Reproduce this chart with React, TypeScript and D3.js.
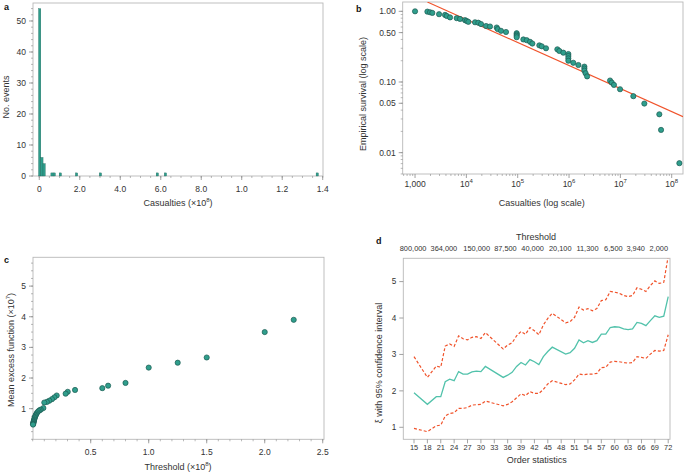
import React from "react";
import * as d3 from "d3";

const W = 685;
const H = 472;
const FONT = "'Liberation Sans', Arial, Helvetica, sans-serif";
const FRAME = "#b8b8b8";
const TICK = "#8a8a8a";
const INK = "#333333";
const TEAL = "#2f9e8c";
const TEAL_DARK = "#1d5a51";
const TEAL_LINE = "#52c2ab";
const RED = "#f0532b";
const FS = 8.5;
const FS_D = 7.4;

// ---- panel a: histogram of casualties (x in units of 1e8)
const histCenters = [0.002, 0.013, 0.024, 0.063, 0.074, 0.104, 0.184, 0.302, 0.583, 0.623, 1.373];
const histCounts = [54, 6, 4, 1, 1, 1, 1, 1, 1, 1, 1];
const histBinWidth = 0.0115;
const histXTicks = [0, 0.2, 0.4, 0.6, 0.8, 1.0, 1.2, 1.4];
const histXLabels = ["0", "2.0", "4.0", "6.0", "8.0", "1.0", "1.2", "1.4"];
const histYTicks = [0, 10, 20, 30, 40, 50];

// ---- panel b: empirical survival
const survX = [1000, 1740, 1960, 2170, 2940, 3840, 4150, 4810, 6490, 7530, 9420, 10160, 10920, 14750, 17100, 19300,
  24200, 28900, 39000, 40800, 47300, 59200, 95500, 95500, 95500, 95500, 129000, 150000, 174000, 193000, 264000,
  294000, 356000, 592000, 647000, 774000, 970000, 970000, 970000, 970000, 1.21e6, 1.52e6, 1.99e6, 1.99e6, 1.99e6,
  2.1e6, 2.25e6, 6.3e6, 6.8e6, 7.5e6, 9.86e6, 1.79e7, 2.93e7, 5.74e7, 6.2e7, 1.41e8];
const survY = [1.0, 0.99, 0.97, 0.95, 0.91, 0.89, 0.86, 0.82, 0.8, 0.78, 0.75, 0.73, 0.71, 0.7, 0.69, 0.66,
  0.62, 0.61, 0.59, 0.56, 0.53, 0.51, 0.49, 0.47, 0.45, 0.43, 0.4, 0.39, 0.37, 0.35, 0.33,
  0.32, 0.3, 0.29, 0.275, 0.26, 0.249, 0.233, 0.216, 0.2, 0.187, 0.174, 0.165, 0.155, 0.145,
  0.133, 0.12, 0.105, 0.098, 0.091, 0.079, 0.063, 0.0495, 0.0349, 0.021, 0.0071];
const fitX = [1740, 1.66e8];
const fitY = [1.355, 0.0323];
const survXTicks = [1e3, 1e4, 1e5, 1e6, 1e7, 1e8];
const survXLabels = ["1,000", "10^4", "10^5", "10^6", "10^7", "10^8"];
const survYTicks = [1, 0.5, 0.1, 0.05, 0.01];
const survYLabels = ["1.00", "0.50", "0.10", "0.05", "0.01"];

// ---- panel c: mean excess function
const meX = [2.25, 2.0, 1.5, 1.25, 1.0, 0.8, 0.65, 0.6, 0.365, 0.302, 0.284, 0.207, 0.187, 0.166, 0.143,
  0.122, 0.1, 0.092, 0.07, 0.06, 0.05, 0.04, 0.033, 0.028, 0.024, 0.02, 0.017, 0.014, 0.012, 0.01,
  0.008, 0.006, 0.005, 0.004, 0.003];
const meY = [3.9, 3.5, 2.67, 2.5, 2.34, 1.84, 1.75, 1.67, 1.61, 1.55, 1.49, 1.43, 1.37, 1.31, 1.26,
  1.22, 1.2, 1.02, 0.97, 0.95, 0.92, 0.88, 0.84, 0.8, 0.77, 0.73, 0.7, 0.66, 0.63, 0.6,
  0.57, 0.55, 0.52, 0.5, 0.48];
const meXTicks = [0.5, 1.0, 1.5, 2.0, 2.5];
const meXLabels = ["0.5", "1.0", "1.5", "2.0", "2.5"];
const meYTicks = [1, 2, 3, 4, 5];

// ---- panel d: xi estimates by order statistic
const orderStats = [15, 18, 20, 21, 22, 23, 24, 25, 26, 27, 28, 29, 30, 31, 35, 36, 37, 38, 39, 40, 41, 42, 43, 44,
  45, 46, 49, 50, 51, 52, 53, 54, 55, 56, 57, 58, 59, 60, 61, 62, 63, 64, 65, 66, 67, 68, 69, 70, 71, 72];
const xiMid = [1.95, 1.63, 1.84, 1.84, 2.25, 2.32, 2.28, 2.53, 2.46, 2.46, 2.52, 2.54, 2.53, 2.67,
  2.37, 2.43, 2.51, 2.67, 2.78, 2.71, 2.86, 2.8, 2.72, 2.94, 3.08, 3.2,
  3.01, 3.05, 3.17, 3.4, 3.32, 3.38, 3.33, 3.38, 3.56, 3.56, 3.74, 3.76, 3.75, 3.7, 3.68, 3.7,
  3.88, 3.85, 3.79, 3.93, 4.06, 4.02, 4.05, 4.59];
const xiUpper = [2.94, 2.37, 2.68, 2.65, 3.23, 3.29, 3.22, 3.51, 3.43, 3.4, 3.47, 3.49, 3.44, 3.6,
  3.15, 3.26, 3.32, 3.51, 3.63, 3.55, 3.74, 3.65, 3.54, 3.81, 3.99, 4.13,
  3.87, 3.9, 4.02, 4.3, 4.22, 4.26, 4.2, 4.26, 4.48, 4.5, 4.73, 4.71, 4.68, 4.62, 4.59, 4.62,
  4.83, 4.79, 4.73, 4.89, 5.02, 4.95, 4.98, 5.7];
const xiLower = [0.97, 0.88, 1.04, 1.06, 1.31, 1.38, 1.4, 1.52, 1.52, 1.54, 1.61, 1.62, 1.63, 1.72,
  1.59, 1.63, 1.7, 1.81, 1.92, 1.87, 1.98, 1.93, 1.93, 2.04, 2.19, 2.28,
  2.17, 2.19, 2.3, 2.46, 2.44, 2.46, 2.46, 2.48, 2.64, 2.65, 2.79, 2.81, 2.8, 2.78, 2.76, 2.78,
  2.94, 2.92, 2.89, 3.01, 3.11, 3.09, 3.11, 3.54];
const orderTicks = [15, 18, 21, 24, 27, 30, 33, 36, 39, 42, 45, 48, 51, 54, 57, 60, 63, 66, 69, 72];
const xiYTicks = [1, 2, 3, 4, 5];
const thresholdAt = [14.8, 21.7, 29.05, 35.5, 41.6, 47.8, 53.9, 59.7, 64.7, 69.9];
const thresholdLabels = ["800,000", "364,000", "150,000", "87,500", "40,000", "20,100", "11,300", "6,500", "3,940", "2,000"];

type Box = { l: number; r: number; t: number; b: number };
const boxA: Box = { l: 33, r: 323, t: 3, b: 176 };
const boxB: Box = { l: 402.7, r: 683, t: 2, b: 174 };
const boxC: Box = { l: 33, r: 324, t: 257.3, b: 439.3 };
const boxD: Box = { l: 403.3, r: 670, t: 258.3, b: 439.3 };

function Label({ s }: { s: string }) {
  // "10^4" -> 10 with superscript
  const [base, sup] = s.split("^");
  if (!sup) return <>{s}</>;
  return (
    <>
      {base}
      <tspan dy={-4} fontSize={6}>{sup}</tspan>
    </>
  );
}

function Frame({ b }: { b: Box }) {
  return <rect x={b.l} y={b.t} width={b.r - b.l} height={b.b - b.t} fill="none" stroke={FRAME} strokeWidth={0.9} />;
}

function LeftAxis({ b, scale, ticks, labels, minor = [], fs = FS }: any) {
  return (
    <g>
      {minor.map((v: number, i: number) => (
        <line key={"m" + i} x1={b.l - 2} x2={b.l} y1={scale(v)} y2={scale(v)} stroke={TICK} strokeWidth={0.6} />
      ))}
      {ticks.map((v: number, i: number) => (
        <g key={i}>
          <line x1={b.l - 4} x2={b.l} y1={scale(v)} y2={scale(v)} stroke={TICK} strokeWidth={0.8} />
          <text x={b.l - 7} y={scale(v)} dy="0.35em" textAnchor="end" fontSize={fs} fill={INK}>
            {labels ? labels[i] : String(v)}
          </text>
        </g>
      ))}
    </g>
  );
}

function BottomAxis({ b, scale, ticks, labels, minor = [], labelY, fs = FS }: any) {
  return (
    <g>
      {minor.map((v: number, i: number) => (
        <line key={"m" + i} x1={scale(v)} x2={scale(v)} y1={b.b} y2={b.b + 2} stroke={TICK} strokeWidth={0.6} />
      ))}
      {ticks.map((v: number, i: number) => (
        <g key={i}>
          <line x1={scale(v)} x2={scale(v)} y1={b.b} y2={b.b + 4} stroke={TICK} strokeWidth={0.8} />
          <text x={scale(v)} y={labelY} textAnchor="middle" fontSize={fs} fill={INK}>
            <Label s={labels ? labels[i] : String(v)} />
          </text>
        </g>
      ))}
    </g>
  );
}

function YTitle({ x, y, children }: any) {
  return (
    <text transform={`translate(${x},${y}) rotate(-90)`} textAnchor="middle" fontSize={9} fill={INK}>
      {children}
    </text>
  );
}

function PanelA() {
  const b = boxA;
  const x = d3.scaleLinear().domain([-0.031, 1.4014]).range([b.l, b.r]);
  const y = d3.scaleLinear().domain([0, 55.8]).range([b.b, b.t]);
  const minorY = d3.range(0, 56, 2);
  const minorX = d3.range(0, 1.401, 0.05);
  return (
    <g>
      <Frame b={b} />
      {histCenters.map((c, i) => (
        <rect key={i} x={x(c - histBinWidth / 2)} width={x(c + histBinWidth / 2) - x(c - histBinWidth / 2)}
          y={y(histCounts[i])} height={y(0) - y(histCounts[i])} fill={TEAL} stroke={TEAL_DARK} strokeWidth={0.3} />
      ))}
      <LeftAxis b={b} scale={y} ticks={histYTicks} minor={minorY} />
      <BottomAxis b={b} scale={x} ticks={histXTicks} labels={histXLabels} minor={minorX} labelY={192} />
      <YTitle x={9} y={97}>No. events</YTitle>
      <text x={178} y={206} textAnchor="middle" fontSize={9} fill={INK}>
        Casualties (×10<tspan dy={-4} fontSize={6}>8</tspan><tspan dy={4}>)</tspan>
      </text>
      <text x={4} y={10} fontSize={9} fontWeight="bold" fill="#111">a</text>
    </g>
  );
}

function PanelB() {
  const b = boxB;
  const x = d3.scaleLog().domain([575, 1.66e8]).range([b.l, b.r]);
  const y = d3.scaleLog().domain([0.00499, 1.355]).range([b.b, b.t]);
  const minorX: number[] = [];
  [1e2, 1e3, 1e4, 1e5, 1e6, 1e7, 1e8].forEach((d) => [2, 3, 4, 5, 6, 7, 8, 9].forEach((m) => {
    const v = d * m;
    if (v > 575 && v < 1.66e8) minorX.push(v);
  }));
  const minorY: number[] = [];
  [1e-3, 1e-2, 1e-1, 1].forEach((d) => [1, 2, 3, 4, 5, 6, 7, 8, 9].forEach((m) => {
    const v = d * m;
    if (v > 0.00499 && v < 1.355) minorY.push(v);
  }));
  const line = d3.line<number>().x((_, i) => x(fitX[i])).y((v) => y(v));
  return (
    <g>
      <defs>
        <clipPath id="clipB"><rect x={b.l} y={b.t} width={b.r - b.l} height={b.b - b.t} /></clipPath>
      </defs>
      <Frame b={b} />
      <LeftAxis b={b} scale={y} ticks={survYTicks} labels={survYLabels} minor={minorY} />
      <BottomAxis b={b} scale={x} ticks={survXTicks} labels={survXLabels} minor={minorX} labelY={187} />
      <g clipPath="url(#clipB)">
        <path d={line(fitY) || ""} fill="none" stroke={RED} strokeWidth={1.1} />
      </g>
      {survX.map((v, i) => (
        <circle key={i} cx={x(v)} cy={y(survY[i])} r={2.6} fill={TEAL} stroke={TEAL_DARK} strokeWidth={0.7} />
      ))}
      <YTitle x={366} y={94}>Empirical survival (log scale)</YTitle>
      <text x={541.7} y={206} textAnchor="middle" fontSize={9} fill={INK}>Casualties (log scale)</text>
      <text x={356} y={12} fontSize={9} fontWeight="bold" fill="#111">b</text>
    </g>
  );
}

function PanelC() {
  const b = boxC;
  const x = d3.scaleLinear().domain([0, 2.511]).range([32.7, b.r]);
  const y = d3.scaleLinear().domain([0, 5.94]).range([b.b, b.t]);
  const minorX = d3.range(0, 2.51, 0.1);
  const minorY = d3.range(0, 5.9, 0.25);
  return (
    <g>
      <Frame b={b} />
      <LeftAxis b={b} scale={y} ticks={meYTicks} minor={minorY} />
      <BottomAxis b={b} scale={x} ticks={meXTicks} labels={meXLabels} minor={minorX} labelY={455} />
      {meX.map((v, i) => (
        <circle key={i} cx={x(v)} cy={y(meY[i])} r={2.6} fill={TEAL} stroke={TEAL_DARK} strokeWidth={0.7} />
      ))}
      <YTitle x={13.5} y={350}>
        Mean excess function (×10<tspan dy={-4} fontSize={6}>7</tspan><tspan dy={4}>)</tspan>
      </YTitle>
      <text x={178} y={470} textAnchor="middle" fontSize={9} fill={INK}>
        Threshold (×10<tspan dy={-4} fontSize={6}>8</tspan><tspan dy={4}>)</tspan>
      </text>
      <text x={4} y={263} fontSize={9} fontWeight="bold" fill="#111">c</text>
    </g>
  );
}

function PanelD() {
  const b = boxD;
  const x = d3.scaleLinear().domain([12.6, 72.4]).range([b.l, b.r]);
  const y = d3.scaleLinear().domain([0.67, 5.64]).range([b.b, b.t]);
  const line = d3.line<number>().x((_, i) => x(orderStats[i])).y((v) => y(v));
  return (
    <g>
      <defs>
        <clipPath id="clipD"><rect x={b.l} y={b.t} width={b.r - b.l} height={b.b - b.t} /></clipPath>
      </defs>
      <Frame b={b} />
      <LeftAxis b={b} scale={y} ticks={xiYTicks} fs={8.2} />
      <BottomAxis b={b} scale={x} ticks={orderTicks} labelY={450} fs={FS_D} />
      <g clipPath="url(#clipD)">
        <path d={line(xiUpper) || ""} fill="none" stroke={RED} strokeWidth={1.2} strokeDasharray="3,2" />
        <path d={line(xiLower) || ""} fill="none" stroke={RED} strokeWidth={1.2} strokeDasharray="3,2" />
        <path d={line(xiMid) || ""} fill="none" stroke={TEAL_LINE} strokeWidth={1.3} />
      </g>
      {thresholdAt.map((v, i) => (
        <text key={i} x={x(v)} y={251} textAnchor="middle" fontSize={FS_D} fill={INK}>{thresholdLabels[i]}</text>
      ))}
      <text x={536} y={240} textAnchor="middle" fontSize={9} fill={INK}>Threshold</text>
      <YTitle x={382} y={363}>ξ with 95% confidence interval</YTitle>
      <text x={536.7} y={462.5} textAnchor="middle" fontSize={9} fill={INK}>Order statistics</text>
      <text x={376} y={244} fontSize={9} fontWeight="bold" fill="#111">d</text>
    </g>
  );
}

export default function App() {
  return (
    <div style={{ position: "absolute", left: 0, top: 0, width: W, height: H, background: "#fff" }}>
      <svg width={W} height={H} viewBox={`0 0 ${W} ${H}`} style={{ display: "block", fontFamily: FONT }}>
        <rect width={W} height={H} fill="#fff" />
        <PanelA />
        <PanelB />
        <PanelC />
        <PanelD />
      </svg>
    </div>
  );
}
